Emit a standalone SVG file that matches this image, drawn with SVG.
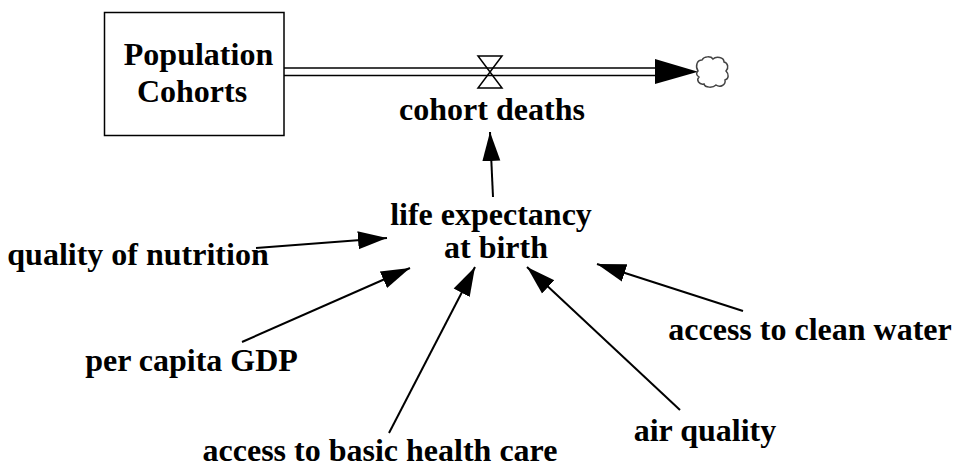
<svg xmlns="http://www.w3.org/2000/svg" width="953" height="468" viewBox="0 0 953 468">
<style>
text{font-family:"Liberation Serif","Times New Roman",serif;font-weight:bold;font-size:32px;fill:#000;text-anchor:middle}
.stock{fill:#fff;stroke:#000;stroke-width:1.5}
.pipe{stroke:#000;stroke-width:1.6;fill:none}
.link{stroke:#000;stroke-width:2;fill:none;marker-end:url(#ah)}
</style>
<defs>
<marker id="ah" viewBox="0 -10 30 20" refX="29" refY="0" markerWidth="30" markerHeight="20" markerUnits="userSpaceOnUse" orient="auto">
<path d="M0,-9 L29,0 L0,9 Z" fill="#000"/>
</marker>
</defs>
<rect width="953" height="468" fill="#fff"/>
<g id="connectors">
<line class="pipe" x1="284" y1="68" x2="657" y2="68"/>
<line class="pipe" x1="284" y1="75.5" x2="657" y2="75.5"/>
<polygon points="655,59 698,71.7 655,84" fill="#000"/>
<line class="link" x1="493" y1="197" x2="490" y2="132"/>
<line class="link" x1="256" y1="248" x2="387" y2="238"/>
<line class="link" x1="242" y1="342" x2="410" y2="268"/>
<line class="link" x1="389" y1="433" x2="475" y2="267"/>
<line class="link" x1="680" y1="410" x2="527" y2="267"/>
<line class="link" x1="743" y1="311" x2="597" y2="264"/>
</g>
<g id="population-cohorts">
<rect class="stock" x="104.5" y="12.5" width="179.5" height="123"/>
<text x="198.5" y="65">Population</text>
<text x="192" y="102">Cohorts</text>
</g>
<g id="cohort-deaths">
<path d="M478,56 L502,56 L490,72 Z M478,88 L502,88 L490,72 Z" fill="none" stroke="#000" stroke-width="1.5"/>
<text x="492" y="120">cohort deaths</text>
</g>
<g id="cloud">
<path d="M698,71 C695,66 697,60 702,60 C704,56 711,56 713,59 C716,56 724,57 724,62 C728,63 729,68 726,71 C729,74 729,79 725,80 C726,85 720,88 716,85 C713,88 705,88 704,84 C699,85 696,80 699,77 C696,75 696,73 698,71 Z" fill="#fff" stroke="#444" stroke-width="1.5"/>
</g>
<g id="life-expectancy">
<text x="491" y="225">life expectancy</text>
<text x="496" y="258">at birth</text>
</g>
<g id="quality-of-nutrition"><text x="138" y="265">quality of nutrition</text></g>
<g id="per-capita-gdp"><text x="191.5" y="371">per capita GDP</text></g>
<g id="access-to-basic-health-care"><text x="380" y="461">access to basic health care</text></g>
<g id="air-quality"><text x="705" y="441">air quality</text></g>
<g id="access-to-clean-water"><text x="810" y="340">access to clean water</text></g>
</svg>
